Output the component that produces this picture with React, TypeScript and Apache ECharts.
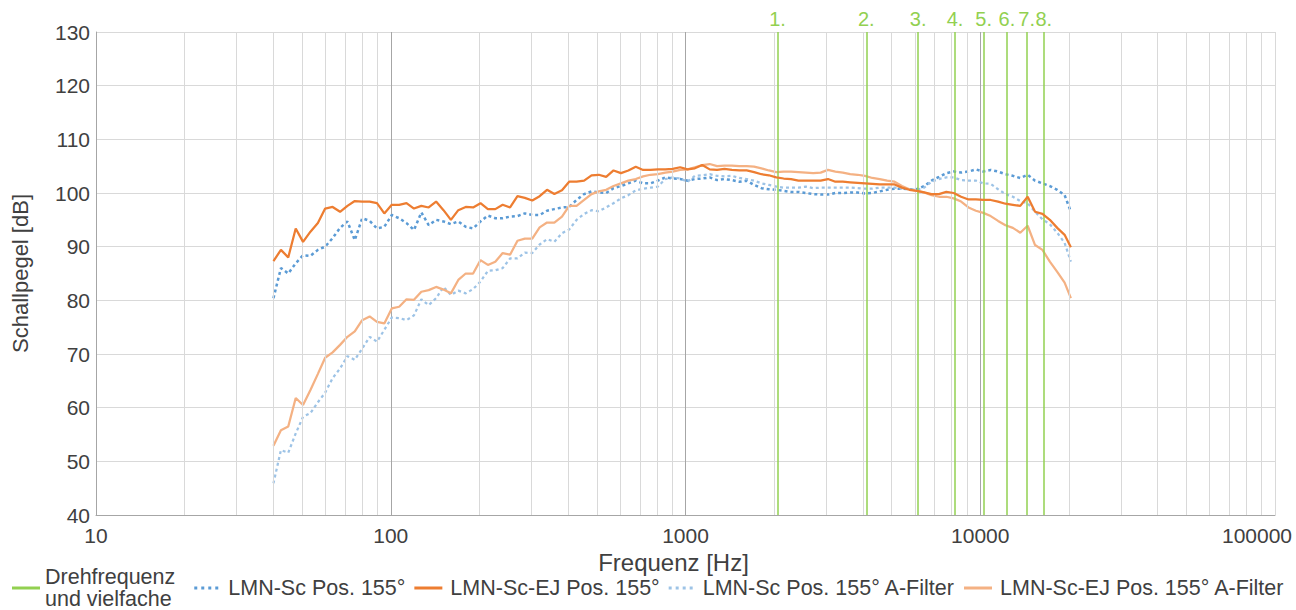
import React, { useEffect, useRef } from "react";
import * as echarts from "echarts";

const freqs = [40, 42.4, 44.9, 47.6, 50.4, 53.4, 56.6, 59.9, 63.5, 67.3, 71.3, 75.5, 80, 84.8, 89.8, 95.1, 100.8, 106.8, 113.1, 119.9, 127, 134.5, 142.5, 151, 160, 169.5, 179.6, 190.3, 201.6, 213.6, 226.3, 239.7, 254, 269.1, 285.1, 302.1, 320, 339, 359, 381, 403, 427, 453, 480, 508, 538, 570, 604, 640, 678, 718, 761, 806, 854, 905, 959, 1016, 1076, 1140, 1208, 1280, 1356, 1437, 1522, 1613, 1709, 1810, 1918, 2032, 2153, 2281, 2416, 2560, 2712, 2874, 3044, 3225, 3417, 3620, 3836, 4064, 4305, 4561, 4833, 5120, 5424, 5747, 6089, 6451, 6834, 7241, 7671, 8127, 8611, 9123, 9665, 10240, 10849, 11494, 12177, 12902, 13669, 14482, 15343, 16255, 17222, 18246, 19331, 20300];

const scPos = [80.4, 86.0, 85.0, 86.9, 88.4, 88.3, 89.4, 90.0, 91.6, 93.5, 94.7, 91.2, 95.3, 94.8, 93.4, 93.7, 95.9, 95.3, 94.4, 93.1, 96.4, 94.0, 95.0, 94.7,
  94.2, 94.7, 93.7, 93.4, 94.7, 95.8, 95.3, 95.3, 95.6, 95.7, 96.2, 95.9, 95.9, 96.7, 97.0, 97.3, 97.4, 98.7, 99.8, 100.3, 100.1, 100.0, 100.9, 101.3, 101.8, 102.3, 101.8, 101.8, 102.3, 102.9, 102.7, 102.6, 102.3,
  102.6, 102.7, 102.9, 102.4, 102.6, 102.4, 102.1, 102.3, 101.5, 100.9, 100.7, 100.6, 100.4, 100.2, 100.2, 100.0, 99.8, 99.7, 99.7, 100.0, 100.0, 100.1, 100.1, 99.9, 100.0, 100.3, 100.6, 100.8, 100.8, 100.7, 100.7, 101.3, 102.3, 103.0, 103.7, 104.0, 103.8, 104.0, 104.4, 104.0, 104.3, 104.0, 103.5, 103.2, 102.8, 103.4, 102.3, 101.8, 101.3, 100.6, 99.6, 96.5];

const ejPos = [87.3, 89.4, 88.0, 93.4, 90.9, 92.8, 94.4, 97.1, 97.4, 96.5, 97.6, 98.5, 98.4, 98.4, 98.1, 96.2, 97.8, 97.8, 98.1, 97.1, 97.6, 97.3, 98.4, 96.8,
  95.0, 96.8, 97.4, 97.3, 98.1, 97.0, 97.0, 97.8, 97.3, 99.4, 99.1, 98.6, 99.4, 100.6, 99.8, 100.5, 102.1, 102.1, 102.3, 103.3, 103.4, 103.0, 104.2, 103.7, 104.2, 104.9, 104.3, 104.3, 104.4, 104.4, 104.5, 104.8, 104.4,
  104.6, 105.2, 104.4, 104.3, 104.5, 104.3, 104.2, 104.2, 103.9, 103.5, 103.3, 102.9, 102.7, 102.6, 102.3, 102.3, 102.3, 102.3, 102.6, 102.1, 102.1, 102.0, 101.9, 101.8, 101.7, 101.6, 101.6, 101.6, 101.0, 100.6, 100.4, 100.1, 99.8, 99.8, 100.2, 100.0, 99.3, 98.8, 98.8, 98.7, 98.7, 98.4, 98.0, 97.8, 97.6, 99.3, 96.5, 96.1, 95.0, 93.5, 92.2, 89.9];

const scPosA = [45.9, 52.1, 51.6, 55.2, 58.3, 59.0, 61.0, 62.8, 65.5, 67.3, 69.6, 68.9, 71.0, 73.2, 72.3, 74.5, 76.8, 76.7, 76.3, 77.2, 80.2, 79.1, 80.4, 82.5,
  81.0, 81.8, 81.3, 82.1, 83.5, 85.5, 85.6, 86.0, 87.8, 87.8, 88.9, 88.8, 90.4, 91.4, 90.9, 92.5, 93.2, 95.0, 96.1, 96.8, 96.6, 97.3, 98.1, 99.0, 99.6, 100.5, 100.8, 101.0, 101.2, 102.6, 102.9, 102.7, 102.1,
  103.2, 103.3, 103.5, 103.2, 103.1, 103.2, 102.8, 102.6, 102.3, 101.8, 101.5, 101.2, 101.0, 101.0, 101.0, 101.2, 100.9, 101.0, 101.0, 101.0, 101.0, 101.0, 100.9, 100.8, 100.8, 101.0, 101.0, 101.0, 100.8, 100.7, 100.6, 101.0, 102.1, 102.6, 102.9, 102.9, 102.4, 102.3, 102.3, 101.8, 101.7, 100.7, 99.8, 99.3, 98.5, 98.1, 96.5, 95.1, 94.2, 92.6, 90.7, 87.2];

const ejPosA = [52.9, 55.8, 56.5, 61.8, 60.5, 63.3, 66.3, 69.3, 70.3, 71.7, 73.2, 74.2, 76.3, 77.0, 76.0, 75.7, 78.5, 78.8, 80.2, 80.1, 81.6, 81.9, 82.5, 82.0,
  81.3, 83.8, 85.0, 85.0, 87.5, 86.6, 87.2, 88.8, 88.5, 91.1, 91.5, 91.5, 93.6, 94.5, 94.5, 95.6, 97.6, 97.6, 98.7, 99.8, 100.3, 100.6, 101.3, 101.8, 102.3, 102.6, 103.1, 103.4, 103.5, 103.8, 104.0, 104.3, 104.4,
  104.8, 105.2, 105.4, 105.0, 105.1, 105.1, 105.0, 105.0, 104.9, 104.6, 104.2, 103.9, 104.0, 104.0, 103.9, 103.8, 103.7, 103.8, 104.3, 104.0, 103.8, 103.5, 103.4, 103.2, 102.8, 102.6, 102.3, 102.1, 101.3, 100.7, 100.4, 100.1, 99.6, 99.3, 99.3, 99.0, 98.4, 97.3, 96.7, 96.3, 95.7, 94.8, 94.0, 93.5, 92.6, 93.9, 90.3, 89.4, 87.2, 85.3, 83.3, 80.4];

const harmonicFreqs = [2053, 4106, 6159, 8212, 10265, 12318, 14371, 16424];
const harmonicLabels = ["1.", "2.", "3.", "4.", "5.", "6.", "7.", "8."];
const minorGrid = [20, 30, 40, 50, 60, 70, 80, 90, 200, 300, 400, 500, 600, 700, 800, 900, 2000, 3000, 4000, 5000, 6000, 7000, 8000, 9000, 20000, 30000, 40000, 50000, 60000, 70000, 80000, 90000];

const seriesNames = [
  "Drehfrequenz\nund vielfache",
  "LMN-Sc Pos. 155°",
  "LMN-Sc-EJ Pos. 155°",
  "LMN-Sc Pos. 155° A-Filter",
  "LMN-Sc-EJ Pos. 155° A-Filter",
];

const FONT = "'Liberation Sans', Arial, sans-serif";
const TXT = "#404040";
const DOTS = "path://M0,0h3v3h-3zM7,0h3v3h-3zM14,0h3v3h-3zM21,0h3v3h-3z";
const legendIcons = ["rect", DOTS, "rect", DOTS, "rect"];

const pairs = (ys: number[]) => freqs.map((f, i) => [f, ys[i]]);

export default function App() {
  const ref = useRef<HTMLDivElement>(null);
  useEffect(() => {
    if (!ref.current) return;
    const chart = echarts.init(ref.current, null, { renderer: "svg" });
    chart.setOption({
      animation: false,
      textStyle: { fontFamily: FONT },
      grid: { left: 96, top: 32, right: 21, bottom: 95, containLabel: false, outerBoundsMode: "none" },
      xAxis: {
        type: "log",
        logBase: 10,
        min: 10,
        max: 100000,
        name: "Frequenz [Hz]",
        nameLocation: "middle",
        nameGap: 32,
        nameTextStyle: { fontSize: 24, color: TXT, fontFamily: FONT, padding: [0, 24, 0, 0] },
        axisLine: { show: true, lineStyle: { color: "#a6a6a6", width: 1 } },
        axisTick: { show: false },
        axisLabel: {
          fontSize: 21,
          color: TXT,
          margin: 10,
          fontFamily: FONT,
          formatter: (v: number) => (Math.round(v) >= 100000 ? "{r|" + Math.round(v) + "}" : String(Math.round(v))),
          rich: { r: { fontSize: 21, color: TXT, fontFamily: FONT, padding: [0, 36, 0, 0] } },
        },
        splitLine: {
          show: true,
          lineStyle: { color: ["#d9d9d9", "#a6a6a6", "#a6a6a6", "#a6a6a6", "#d9d9d9"], width: 1 },
        },
      },
      yAxis: {
        type: "value",
        min: 40,
        max: 130,
        interval: 10,
        name: "Schallpegel [dB]",
        nameLocation: "middle",
        nameGap: 65,
        nameTextStyle: { fontSize: 22, color: TXT, fontFamily: FONT },
        axisLine: { show: true, lineStyle: { color: "#a6a6a6", width: 1 } },
        axisTick: { show: false },
        axisLabel: { fontSize: 21, color: TXT, margin: 6, fontFamily: FONT },
        splitLine: { show: true, lineStyle: { color: "#d9d9d9", width: 1 } },
      },
      legend: {
        left: 7,
        top: 561,
        itemWidth: 28,
        itemHeight: 3,
        itemGap: 9,
        data: seriesNames.map((n, i) => ({
          name: n,
          icon: legendIcons[i],
          textStyle: i === 0 ? { padding: [0, 10, 0, 0] } : { padding: [0, 0, 0, 3] },
        })),
        textStyle: { fontSize: 21.5, color: TXT, fontFamily: FONT, lineHeight: 22 },
      },
      series: [
        {
          type: "line",
          name: "_grid",
          data: [],
          silent: true,
          z: 1,
          markLine: {
            silent: true,
            symbol: "none",
            label: { show: false },
            lineStyle: { color: "#d9d9d9", width: 1, type: "solid" },
            data: minorGrid.map((v) => ({ xAxis: v })),
          },
        },
        {
          type: "line",
          name: seriesNames[0],
          data: [],
          color: "#92D050",
          lineStyle: { color: "#92D050", width: 2 },
          symbol: "none",
          z: 3,
          markLine: {
            silent: true,
            symbol: "none",
            lineStyle: { color: "#92D050", width: 1.5, type: "solid" },
            label: {
              show: true,
              position: "end",
              formatter: "{b}",
              color: "#92D050",
              fontSize: 20,
              fontFamily: FONT,
              distance: 3,
            },
            data: harmonicFreqs.map((f, i) => ({ xAxis: f, name: harmonicLabels[i] })),
          },
        },
        {
          type: "line",
          name: seriesNames[1],
          data: pairs(scPos),
          color: "#5B9BD5",
          symbol: "none",
          lineStyle: { color: "#5B9BD5", width: 2.5, type: [3, 3] },
          z: 4,
        },
        {
          type: "line",
          name: seriesNames[2],
          data: pairs(ejPos),
          color: "#ED7D31",
          symbol: "none",
          lineStyle: { color: "#ED7D31", width: 2.25 },
          z: 5,
        },
        {
          type: "line",
          name: seriesNames[3],
          data: pairs(scPosA),
          color: "#9DC3E6",
          symbol: "none",
          lineStyle: { color: "#9DC3E6", width: 2.25, type: [3, 3] },
          z: 4,
        },
        {
          type: "line",
          name: seriesNames[4],
          data: pairs(ejPosA),
          color: "#F4B183",
          symbol: "none",
          lineStyle: { color: "#F4B183", width: 2.25 },
          z: 4,
        },
      ],
    });
    return () => chart.dispose();
  }, []);
  return (
    <div
      ref={ref}
      style={{ position: "fixed", left: 0, top: 0, width: 1296, height: 610, background: "#fff" }}
    />
  );
}
